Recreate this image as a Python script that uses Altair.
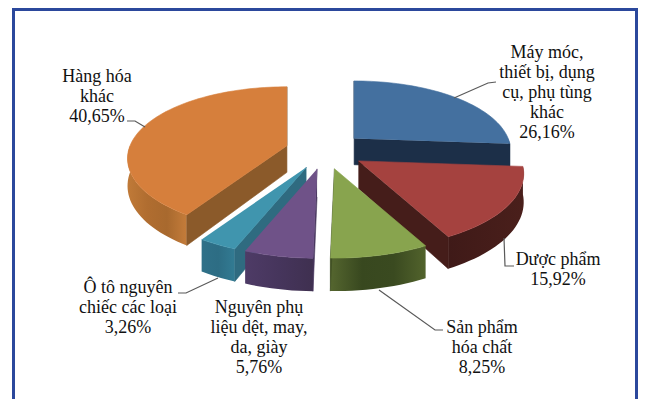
import math
import altair as alt

# ---- data ----
categories = ["Máy móc,\nthiết bị, dụng\ncụ, phụ tùng\nkhác", "Dược phẩm", "Sản phẩm\nhóa chất",
              "Nguyên phụ\nliệu dệt, may,\nda, giày", "Ô tô nguyên\nchiếc các loại", "Hàng hóa\nkhác"]
shares = [26.16, 15.92, 8.25, 5.76, 3.26, 40.65]
pct_text = ["26,16%", "15,92%", "8,25%", "5,76%", "3,26%", "40,65%"]
top_colors = ["#44709f", "#a5423f", "#88a44e", "#6f5288", "#4095ae", "#d67f3c"]
cut_colors = ["#1c2f48", "#451d1a", "#3f4f24", "#46355c", "#2f6b80", "#8b5a2a"]
rim_stops = [["#1c2f48", "#1c2f48"],
             ["#3f1a18", "#4a1f1b"],
             ["#55662f", "#38481f", "#3a4a20", "#52632c"],
             ["#4e3b66", "#46355c", "#3f3050"],
             ["#2f7088", "#2d6d84", "#327b93"],
             ["#c07a38", "#b06d30", "#a8692e", "#c47c3a"]]
draw_order = [0, 5, 1, 4, 3, 2]

# pie geometry (page pixels)
CX, CY = 325, 151
RX, RY = 159, 73
EXPLODE, PERSP, DEPTH = 0.25, 0.18, 27
W, H = 630, 391
X0, Y0 = 8, 8

label_pos = [(547, 53), (558, 260), (482, 328), (259, 308), (128, 288), (97, 77)]
leaders = [[(454, 98), (488, 83), (496, 82)],
           [(504, 238), (505, 266), (514, 266)],
           [(379, 290), (435, 330), (443, 330)],
           [],
           [(218, 278), (186, 293), (178, 293)],
           [(145, 127), (135, 121), (127, 121)]]

x_enc = alt.X("x:Q", scale=alt.Scale(domain=[X0, X0 + W], nice=False, zero=False), axis=None)
y_enc = alt.Y("y:Q", scale=alt.Scale(domain=[Y0, Y0 + H], nice=False, zero=False, reverse=True), axis=None)


def rim_point(ax, ay, ay_unit, deg, drop=0.0):
    t = math.radians(deg)
    sx, sy = math.sin(t), -math.cos(t)
    f = 1 + PERSP * (sy + ay_unit)
    return ax + RX * sx * f, ay + RY * sy * f + drop * f


def arc(ax, ay, ay_unit, d0, d1, drop=0.0):
    n = max(2, int(abs(d1 - d0) / 2))
    return [rim_point(ax, ay, ay_unit, d0 + (d1 - d0) * i / n, drop) for i in range(n + 1)]


def poly(points, fill):
    rows = [{"x": p[0], "y": p[1], "i": i} for i, p in enumerate(points)]
    kw = dict(fill=fill, interpolate="linear", clip=True)
    if isinstance(fill, str):
        kw.update(stroke=fill, strokeWidth=0.6)
    else:
        kw.update(strokeWidth=0)
    return alt.Chart(alt.Data(values=rows)).mark_line(**kw).encode(x=x_enc, y=y_enc, order="i:Q")


def gradient(stops):
    n = len(stops) - 1
    return alt.LinearGradient(gradient="linear", x1=0, x2=1, y1=0, y2=0,
                              stops=[alt.GradientStop(offset=i / n, color=c) for i, c in enumerate(stops)])


layers = []
starts = []
acc = 0.0
for s in shares:
    starts.append(acc)
    acc += s * 3.6

for k in draw_order:
    a0, a1 = starts[k], starts[k] + shares[k] * 3.6
    mid = math.radians((a0 + a1) / 2)
    ay_unit = -EXPLODE * math.cos(mid)
    ax = CX + EXPLODE * RX * math.sin(mid)
    ay = CY + RY * ay_unit
    lo, hi = max(a0, 90), min(a1, 270)
    if hi > lo:
        top_arc = arc(ax, ay, ay_unit, lo, hi)
        low_arc = arc(ax, ay, ay_unit, lo, hi, DEPTH)
        layers.append(poly(top_arc + low_arc[::-1], gradient(rim_stops[k])))
    for ang, normal in ((a0, a0 - 90), (a1, a1 + 90)):
        if math.cos(math.radians(normal)) <= 0.05:
            layers.append(poly([(ax, ay), rim_point(ax, ay, ay_unit, ang),
                                rim_point(ax, ay, ay_unit, ang, DEPTH),
                                (ax, ay + DEPTH * (1 + PERSP * ay_unit))], cut_colors[k]))
    layers.append(poly([(ax, ay)] + arc(ax, ay, ay_unit, a0, a1), top_colors[k]))

# leader lines
for pts in leaders:
    if pts:
        rows = [{"x": p[0], "y": p[1], "i": i} for i, p in enumerate(pts)]
        layers.append(alt.Chart(alt.Data(values=rows)).mark_line(color="#595959", strokeWidth=1.2)
                      .encode(x=x_enc, y=y_enc, order="i:Q"))

# labels
label_rows = [{"x": p[0], "y": p[1], "t": c + "\n" + v}
              for c, v, p in zip(categories, pct_text, label_pos)]
layers.append(alt.Chart(alt.Data(values=label_rows)).mark_text(
    font="Liberation Serif", fontSize=18, color="#111111", align="center", baseline="middle",
    lineBreak="\n", lineHeight=20).encode(x=x_enc, y=y_enc, text="t:N"))

# frame
frame_blue = "#2b489c"
for pts in ([(13.5, 8), (13.5, 399)], [(636.5, 8), (636.5, 399)], [(12, 9.5), (638, 9.5)]):
    rows = [{"x": p[0], "y": p[1], "i": i} for i, p in enumerate(pts)]
    layers.append(alt.Chart(alt.Data(values=rows)).mark_line(color=frame_blue, strokeWidth=3, clip=True)
                  .encode(x=x_enc, y=y_enc, order="i:Q"))

chart = alt.layer(*layers).properties(
    width=W, height=H, padding=0,
    autosize=alt.AutoSizeParams(type="none"), background="white"
).configure_view(stroke=None)

chart.save("out.html", embed_options={"renderer": "svg", "actions": False})
